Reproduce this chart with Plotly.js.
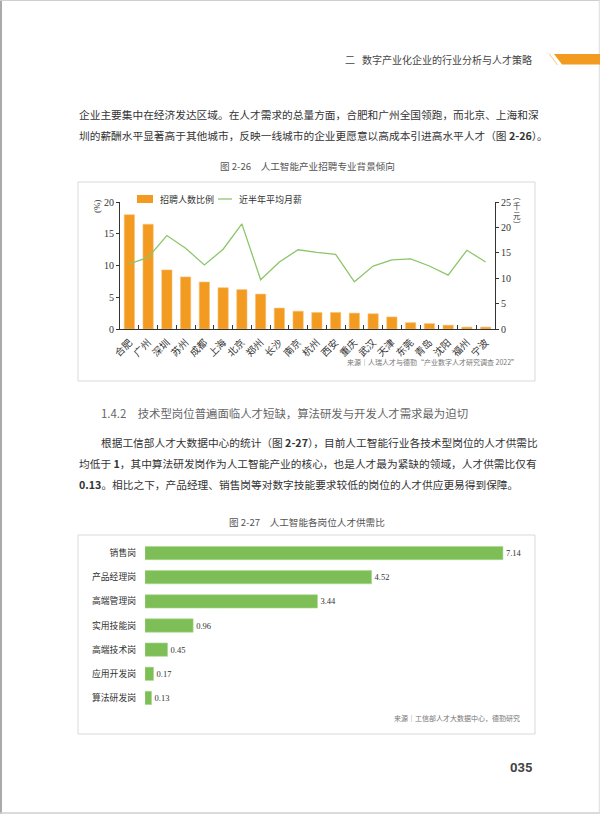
<!DOCTYPE html>
<html>
<head>
<meta charset="utf-8">
<script src="https://cdn.plot.ly/plotly-3.0.1.min.js"></script>
<style>html,body{margin:0;padding:0;background:#fff;}#page{width:600px;height:814px;}</style>
</head>
<body>
<div id="page"></div>
<script>
// ---- Figure 2-26 data ----
const cities = ['合肥','广州','深圳','苏州','成都','上海','北京','郑州','长沙','南京','杭州','西安','重庆','武汉','天津','东莞','青岛','沈阳','福州','宁波'];
const hireShare = [18.0,16.5,9.3,8.2,7.4,6.5,6.2,5.5,3.3,2.8,2.6,2.6,2.5,2.4,1.9,1.0,0.85,0.6,0.3,0.3];
const avgSalary = [12.8,14.1,18.4,15.9,12.6,15.7,20.7,9.7,13.2,15.6,15.1,14.7,9.3,12.4,13.6,13.8,12.4,10.6,15.5,13.2];
const leftTicks = [0,5,10,15,20];
const rightTicks = [0,5,10,15,20,25];
const seriesNames = ['招聘人数比例','近半年平均月薪'];

// ---- Figure 2-27 data ----
const roles = ['销售岗','产品经理岗','高端管理岗','实用技能岗','高端技术岗','应用开发岗','算法研发岗'];
const supplyDemand = [7.14,4.52,3.44,0.96,0.45,0.17,0.13];

const W = 600, H = 814;
const px = v => v / W;
const py = v => 1 - v / H;

const SERIF = 'Liberation Serif, Noto Sans CJK SC, serif';
const SANS = 'Noto Sans CJK SC, Noto Sans, sans-serif';
const ORANGE = '#f39a21';
const GREEN_LINE = '#8cc66a';
const GREEN_BAR = '#7dbf56';

const traces = [
  {type:'bar', x:cities, y:hireShare, xaxis:'x', yaxis:'y', name:seriesNames[0],
   marker:{color:ORANGE, line:{color:'#f7c27a', width:0.6}}, hoverinfo:'x+y'},
  {type:'scatter', mode:'lines', x:cities, y:avgSalary, xaxis:'x', yaxis:'y2', name:seriesNames[1],
   line:{color:GREEN_LINE, width:1.3}},
  {type:'bar', orientation:'h', x:supplyDemand, y:roles, xaxis:'x3', yaxis:'y3',
   marker:{color:GREEN_BAR, line:{color:'#a9d68d', width:0.6}},
   text:supplyDemand.map(v=>v.toFixed(2)), textposition:'outside', cliponaxis:false,
   textfont:{family:SERIF, size:8.5, color:'#333'}, showlegend:false}
];

const axisFont = {family:SERIF, size:10, color:'#333'};

const layout = {
  width:W, height:H, margin:{l:0,r:0,t:0,b:0},
  paper_bgcolor:'#fff', plot_bgcolor:'rgba(0,0,0,0)',
  showlegend:false, bargap:0.45,
  xaxis:{domain:[px(120),px(495)], anchor:'y', type:'category', range:[-0.5,19.5],
    showline:true, linecolor:'#333', linewidth:1, ticks:'inside', tickson:'boundaries',
    ticklen:4, tickcolor:'#333', tickangle:-45, showgrid:false, zeroline:false,
    ticklabelstandoff:3,
    tickfont:{family:SERIF, size:9.8, color:'#333'}},
  yaxis:{domain:[py(329),py(202)], anchor:'x', range:[0,20], tickvals:leftTicks,
    showline:true, linecolor:'#333', linewidth:1, ticks:'outside', ticklen:3, tickcolor:'#333',
    showgrid:false, zeroline:false, tickfont:axisFont},
  yaxis2:{overlaying:'y', side:'right', anchor:'x', range:[0,25], tickvals:rightTicks,
    showline:true, linecolor:'#333', linewidth:1, ticks:'outside', ticklen:3, tickcolor:'#333',
    showgrid:false, zeroline:false, tickfont:axisFont},
  xaxis3:{domain:[px(145),px(526)], anchor:'y3', range:[0,7.6], visible:false, fixedrange:true},
  yaxis3:{domain:[py(710),py(541)], anchor:'x3', type:'category', range:[6.5,-0.5],
    showline:false, ticks:'', showgrid:false, zeroline:false, ticklabelstandoff:8,
    tickfont:{family:SERIF, size:8.8, color:'#333'}},
  shapes:[],
  annotations:[]
};

// page frame
layout.shapes.push(
  {type:'line', xref:'paper', yref:'paper', x0:px(1), x1:px(1), y0:0, y1:1, line:{color:'#aaaaaa', width:2}},
  {type:'line', xref:'paper', yref:'paper', x0:0, x1:1, y0:py(0.5), y1:py(0.5), line:{color:'#cfcfcf', width:1}},
  {type:'line', xref:'paper', yref:'paper', x0:0, x1:1, y0:py(813), y1:py(813), line:{color:'#cfcfcf', width:1.5}},
  {type:'line', xref:'paper', yref:'paper', x0:px(599.3), x1:px(599.3), y0:0, y1:1, line:{color:'#dddddd', width:1}}
);
// header decoration
layout.shapes.push(
  {type:'path', xref:'paper', yref:'paper',
   path:`M ${px(554)} ${py(54)} L ${px(600)} ${py(54)} L ${px(600)} ${py(64.5)} L ${px(562)} ${py(64.5)} Z`,
   fillcolor:ORANGE, line:{width:0}},
  {type:'line', xref:'paper', yref:'paper', x0:px(549), y0:py(53.5), x1:px(557.5), y1:py(65),
   line:{color:'#f3c98e', width:1}}
);
// chart frames
layout.shapes.push(
  {type:'rect', xref:'paper', yref:'paper', x0:px(78), x1:px(535), y0:py(381), y1:py(182),
   line:{color:'#d9d9d9', width:1}},
  {type:'rect', xref:'paper', yref:'paper', x0:px(78), x1:px(535), y0:py(734), y1:py(535),
   line:{color:'#d9d9d9', width:1}}
);
// legend for figure 2-26
layout.shapes.push(
  {type:'rect', xref:'paper', yref:'paper', x0:px(137), x1:px(153), y0:py(203), y1:py(195),
   fillcolor:ORANGE, line:{width:0}},
  {type:'line', xref:'paper', yref:'paper', x0:px(218), x1:px(232), y0:py(199), y1:py(199),
   line:{color:GREEN_LINE, width:1.3}}
);

function ann(text, x, y, opts) {
  const o = Object.assign({size:10.7, color:'#333', family:SANS, xanchor:'left', yanchor:'middle'}, opts||{});
  layout.annotations.push({text:text, xref:'paper', yref:'paper', x:px(x), y:py(y),
    xanchor:o.xanchor, yanchor:o.yanchor, showarrow:false, textangle:o.angle||0,
    font:{family:o.family, size:o.size, color:o.color}, align:o.align||'left'});
}

// header
ann('二', 343, 59.5, {size:10, color:'#444'});
ann('数字产业化企业的行业分析与人才策略', 534, 59.5, {size:10, color:'#444', xanchor:'right'});

// paragraph 1
ann('企业主要集中在经济发达区域。在人才需求的总量方面，合肥和广州全国领跑，而北京、上海和深', 77, 114);
ann('圳的薪酬水平显著高于其他城市，反映一线城市的企业更愿意以高成本引进高水平人才（图 <b>2-26</b>）。', 77, 135);

// figure 2-26 title & labels
ann('图 2-26　人工智能产业招聘专业背景倾向', 307, 166, {size:9.6, color:'#555', xanchor:'center'});
ann(seriesNames[0], 158, 199, {size:9, family:SERIF});
ann(seriesNames[1], 237, 199, {size:9, family:SERIF});
ann('(%)', 97, 206, {size:9, family:SERIF, xanchor:'center', angle:-90});
ann('︵<br>千<br>元<br>︶', 517, 211, {size:7.5, family:SERIF, xanchor:'center'});
ann('来源｜人瑞人才与德勤“产业数字人才研究调查 2022”', 520, 362, {size:7, color:'#777', xanchor:'right'});

// section heading
ann('1.4.2　技术型岗位普遍面临人才短缺，算法研发与开发人才需求最为迫切', 99, 413, {size:11.4, color:'#666'});

// paragraph 2
ann('根据工信部人才大数据中心的统计（图 <b>2-27</b>），目前人工智能行业各技术型岗位的人才供需比', 99, 442);
ann('均低于 <b>1</b>，其中算法研发岗作为人工智能产业的核心，也是人才最为紧缺的领域，人才供需比仅有', 77, 463);
ann('<b>0.13</b>。相比之下，产品经理、销售岗等对数字技能要求较低的岗位的人才供应更易得到保障。', 77, 484);

// figure 2-27 title & source
ann('图 2-27　人工智能各岗位人才供需比', 307, 522, {size:9.6, color:'#555', xanchor:'center'});
ann('来源｜工信部人才大数据中心，德勤研究', 522, 718, {size:7, color:'#777', xanchor:'right'});

// page number
ann('<b>035</b>', 534, 767, {size:13, color:'#444', xanchor:'right', family:'Roboto, Noto Sans, sans-serif'});

Plotly.newPlot('page', traces, layout, {displayModeBar:false, staticPlot:true});
</script>
</body>
</html>
